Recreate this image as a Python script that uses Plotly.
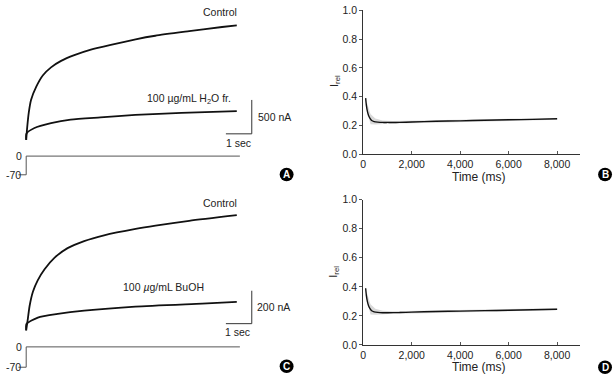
import plotly.graph_objects as go

W, H = 613, 380

# ---------------- data ----------------
# Panel A: currents (nA) vs time (s)
t_a_ctrl = [0, 0.04, 0.10, 0.19, 0.39, 0.64, 0.96, 1.35, 1.86, 2.5, 3.27, 4.23, 4.99, 6.3, 7.57, 8.14]
i_a_ctrl = [0, 190, 404, 594, 786, 951, 1071, 1166, 1251, 1333, 1404, 1485, 1537, 1604, 1666, 1690]
t_a_inh = [0, 0.01, 0.32, 0.96, 1.72, 2.87, 4.22, 6.0, 8.14]
i_a_inh = [0, 94, 176, 247, 300, 333, 369, 400, 426]

# Panel C: currents (nA) vs time (s)
t_c_ctrl = [0, 0.065, 0.13, 0.26, 0.45, 0.71, 1.09, 1.6, 2.24, 3.01, 4.23, 5.0, 6.3, 8.14]
i_c_ctrl = [0, 71, 147, 235, 306, 372, 441, 500, 543, 578, 617, 637, 666, 700]
t_c_inh = [0, 0.01, 0.45, 1.22, 2.24, 4.22, 6.8, 8.14]
i_c_inh = [0, 39, 78, 100, 120, 145, 163, 173]

# Voltage protocol (mV vs s)
t_prot = [-0.3, 0, 0, 8.26]
v_prot = [-70, -70, 0, 0]

# Panels B / D: relative current vs time (ms)
t_rel = [100, 130, 170, 220, 280, 350, 450, 600, 800, 1000, 1500, 2000, 3000, 4000, 5000, 6000, 7000, 8000]
b_rel = [0.39, 0.34, 0.30, 0.27, 0.25, 0.235, 0.228, 0.224, 0.222, 0.222, 0.222, 0.225, 0.23, 0.233, 0.237, 0.24, 0.243, 0.247]
d_rel = [0.39, 0.34, 0.30, 0.27, 0.25, 0.235, 0.228, 0.224, 0.222, 0.222, 0.223, 0.226, 0.23, 0.233, 0.236, 0.239, 0.242, 0.246]
t_band = [150, 300, 500, 800, 1200, 2000, 4000, 6000, 8000]
band_hi = [0.36, 0.28, 0.25, 0.236, 0.232, 0.234, 0.241, 0.246, 0.253]
band_lo = [0.31, 0.21, 0.207, 0.212, 0.214, 0.217, 0.226, 0.232, 0.24]

x_ticks = [0, 2000, 4000, 6000, 8000]
y_ticks = [0.0, 0.2, 0.4, 0.6, 0.8, 1.0]

scale_a_na = 500
scale_c_na = 200
scale_t = 1

# ---------------- helpers ----------------
def X(px):
    return px / W

def Y(py):
    return 1 - py / H

def ydom(top, bottom):
    return [Y(bottom), Y(top)]

def xdom(left, right):
    return [X(left), X(right)]

# time axis for A & C: t=0 at px 23.3, 26 px per second
T0, PPS = 23.3, 26.0
t_range = [(0 - T0) / PPS, (300 - T0) / PPS]

fig = go.Figure()

BLK = "#111111"
GRY = "#555555"

def trace_line(x, y, xa, ya, w=1.8, color=BLK, shape="spline"):
    fig.add_trace(go.Scatter(x=x, y=y, xaxis=xa, yaxis=ya, mode="lines",
                             line=dict(color=color, width=w, shape=shape, smoothing=0.6),
                             showlegend=False, hoverinfo="skip"))

trace_line(t_a_ctrl, i_a_ctrl, "x", "y")
trace_line(t_a_inh, i_a_inh, "x", "y")
trace_line(t_prot, v_prot, "x2", "y2", w=1, color=GRY, shape="linear")
trace_line(t_c_ctrl, i_c_ctrl, "x3", "y3")
trace_line(t_c_inh, i_c_inh, "x3", "y3")
trace_line(t_prot, v_prot, "x4", "y4", w=1, color=GRY, shape="linear")

for xa, ya, vals in (("x5", "y5", b_rel), ("x6", "y6", d_rel)):
    fig.add_trace(go.Scatter(x=t_band, y=band_hi, xaxis=xa, yaxis=ya, mode="lines",
                             line=dict(color="rgba(0,0,0,0)", width=0), showlegend=False,
                             hoverinfo="skip"))
    fig.add_trace(go.Scatter(x=t_band, y=band_lo, xaxis=xa, yaxis=ya, mode="lines",
                             line=dict(color="rgba(0,0,0,0)", width=0), fill="tonexty",
                             fillcolor="rgba(170,170,170,0.45)", showlegend=False,
                             hoverinfo="skip"))
    fig.add_trace(go.Scatter(x=t_rel, y=vals, xaxis=xa, yaxis=ya, mode="lines",
                             line=dict(color=BLK, width=1.4, shape="spline", smoothing=0.5),
                             showlegend=False, hoverinfo="skip"))

hidden = dict(visible=False, fixedrange=True)

# current y ranges
ia_range = [(138.3 - 145) * 500 / 35, (138.3 - 0) * 500 / 35]
ic_range = [(335 - 342) * 200 / 34, (335 - 190) * 200 / 34]
va_range = [-70 - (180 - 174.3) * 70 / 19.3, (155 - 150) * 70 / 19.3]
vc_range = [-70 - (380 - 373) * 70 / 21, (352 - 347) * 70 / 21]

fig.update_layout(
    width=W, height=H, margin=dict(l=0, r=0, t=0, b=0),
    paper_bgcolor="white", plot_bgcolor="white",
    font=dict(family="Liberation Sans, Arial, sans-serif", size=10, color="#222"),
    xaxis=dict(domain=xdom(0, 300), range=t_range, anchor="y", **hidden),
    yaxis=dict(domain=ydom(0, 145), range=ia_range, anchor="x", **hidden),
    xaxis2=dict(domain=xdom(0, 300), range=t_range, anchor="y2", **hidden),
    yaxis2=dict(domain=ydom(150, 180), range=va_range, anchor="x2", **hidden),
    xaxis3=dict(domain=xdom(0, 300), range=t_range, anchor="y3", **hidden),
    yaxis3=dict(domain=ydom(190, 342), range=ic_range, anchor="x3", **hidden),
    xaxis4=dict(domain=xdom(0, 300), range=t_range, anchor="y4", **hidden),
    yaxis4=dict(domain=ydom(347, 380), range=vc_range, anchor="x4", **hidden),
)

axis_common = dict(showline=True, linecolor="#333", linewidth=1, showgrid=False,
                   zeroline=False, tickcolor="#555", ticklen=3, tickwidth=1,
                   tickfont=dict(size=10.5, color="#222"), fixedrange=True)
for n, (top, bot) in ((5, (4.3, 153.3)), (6, (200, 350))):
    fig.layout[f"xaxis{n}"] = dict(domain=xdom(362, 580), range=[0, 8950], anchor=f"y{n}",
                                   tickvals=x_ticks, tickformat=",d", ticks="inside",
                                   **axis_common)
    fig.layout[f"yaxis{n}"] = dict(domain=ydom(top, bot), range=[0, 1], anchor=f"x{n}",
                                   tickvals=y_ticks, tickformat=".1f", ticks="outside",
                                   **axis_common)

shapes = []
ann = []

def line(xa, ya, x0, y0, x1, y1, color="#333", w=1):
    shapes.append(dict(type="line", xref=xa, yref=ya, x0=x0, y0=y0, x1=x1, y1=y1,
                       line=dict(color=color, width=w)))

# scale bars (data coords)
sb_t = (250 - T0) / PPS
for xa, ya, base, amp in (("x", "y", 90, scale_a_na), ("x3", "y3", 41, scale_c_na)):
    line(xa, ya, sb_t, base, sb_t, base + amp)
    line(xa, ya, sb_t - scale_t, base, sb_t, base)

def text(px, py, s, size=10.5, xanchor="center", color="#222", angle=0):
    ann.append(dict(x=X(px), y=Y(py), xref="paper", yref="paper", text=s, showarrow=False,
                    xanchor=xanchor, yanchor="middle", textangle=angle,
                    font=dict(size=size, color=color,
                              family="Liberation Sans, Arial, sans-serif"),
                    ))

text(237, 6, "Control", xanchor="right")
text(231, 96, "100 µg/mL H<sub>2</sub>O fr.", xanchor="right")
text(254, 115, "500 nA", xanchor="left")
text(237, 141, "1 sec")
text(16, 155, "0")
text(11, 174, "-70")

text(237, 203, "Control", xanchor="right")
text(204, 290, "100 <i>µ</i>g/mL BuOH", xanchor="right")
text(253, 311, "200 nA", xanchor="left")
text(236, 337, "1 sec")
text(16, 352, "0")
text(11, 373, "-70")

text(333, 77, "I<sub>rel</sub>", size=11, angle=-90)
text(478, 177, "Time (ms)", size=12)
text(333, 274, "I<sub>rel</sub>", size=11, angle=-90)
text(478, 373, "Time (ms)", size=12)

for (cx, cy, letter) in ((285, 174, "A"), (605, 174, "B"), (285, 372, "C"), (605, 373, "D")):
    r = 7
    shapes.append(dict(type="circle", xref="paper", yref="paper",
                       x0=X(cx - r), x1=X(cx + r), y0=Y(cy + r), y1=Y(cy - r),
                       fillcolor="black", line=dict(color="black", width=0)))
    text(cx, cy, f"<b>{letter}</b>", size=10, color="white")

fig.update_layout(shapes=shapes, annotations=ann)
fig.write_html("out.html", config={"displayModeBar": False},
               post_script="document.body.style.margin='0';document.body.style.overflow='hidden';")
